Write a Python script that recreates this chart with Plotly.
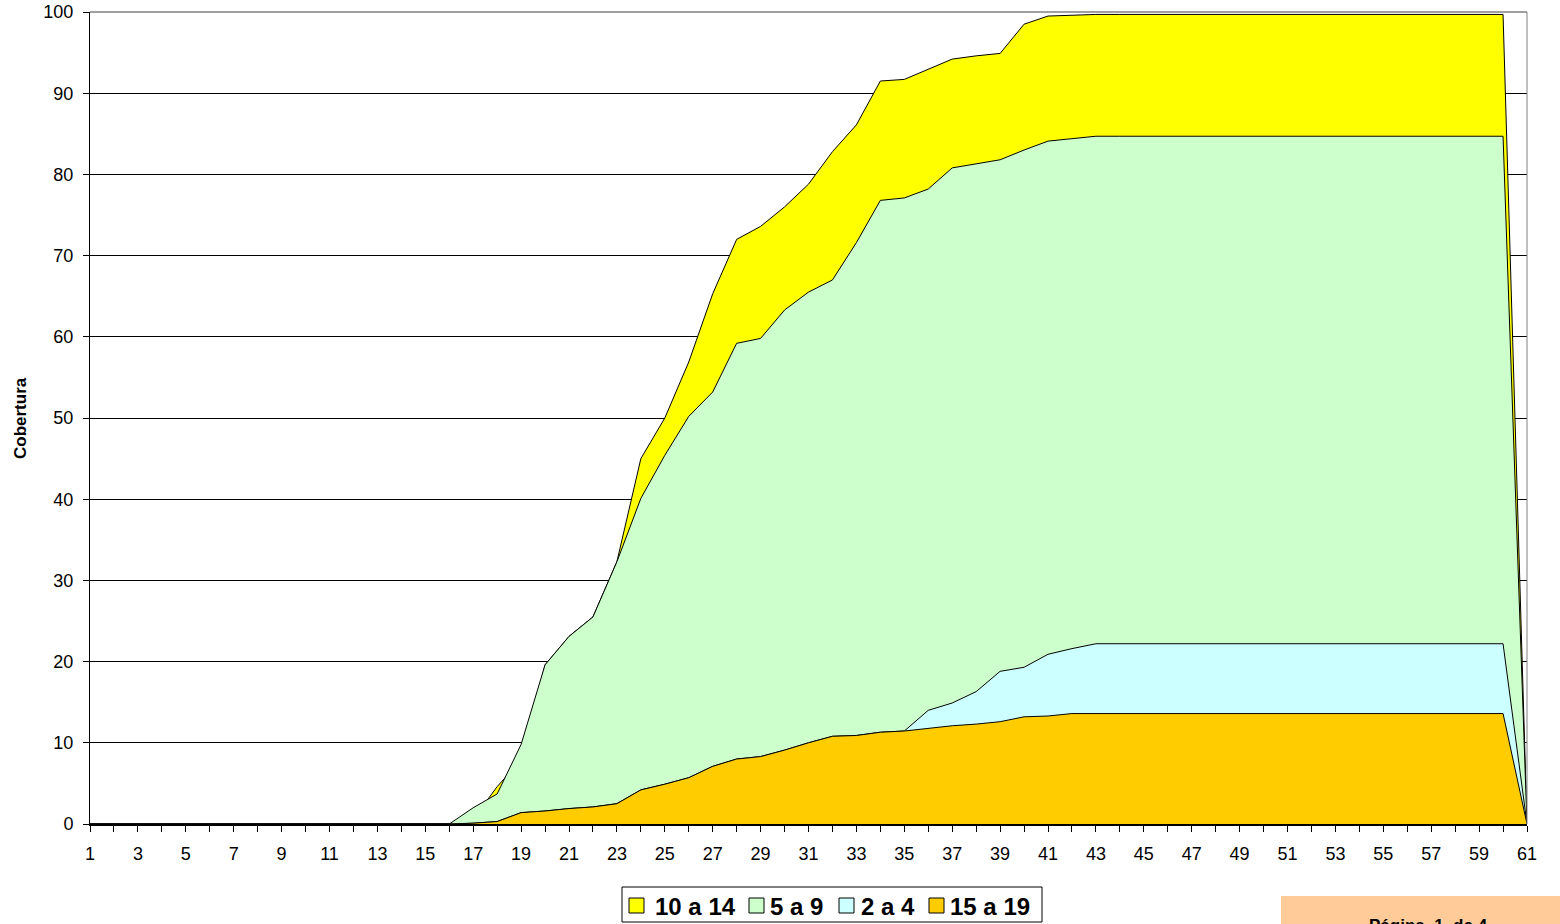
import plotly.graph_objects as go

# Categories (x axis)
semanas = list(range(1, 62))

# Series values (Cobertura, %)
s_10a14 = [0]*16 + [0.6, 4.6, 7.9, 19.6, 23.1, 25.5, 32.3, 45.0, 50.0, 56.9, 65.3, 72.0,
           73.6, 76.0, 78.8, 82.8, 86.1, 91.5, 91.7, 92.9, 94.2, 94.6, 94.9, 98.5,
           99.5, 99.6] + [99.7]*18 + [0]
s_5a9 = [0]*16 + [2.0, 3.7, 9.8, 19.6, 23.1, 25.5, 32.3, 40.1, 45.4, 50.2, 53.2, 59.2,
         59.8, 63.3, 65.5, 67.0, 71.6, 76.8, 77.1, 78.2, 80.8, 81.3, 81.8, 83.0,
         84.1, 84.4] + [84.7]*18 + [0]
s_15a19 = [0]*16 + [0.1, 0.3, 1.4, 1.6, 1.9, 2.1, 2.5, 4.2, 4.9, 5.7, 7.1, 8.0,
           8.3, 9.1, 10.0, 10.8, 10.9, 11.3, 11.45, 11.8, 12.1, 12.3, 12.6, 13.2,
           13.3, 13.6] + [13.6]*18 + [0]
s_2a4 = s_15a19[:35] + [14.0, 14.9, 16.3, 18.8, 19.3, 20.9, 21.6] + [22.2]*18 + [0]

series_names = ["10 a 14", "5 a 9", "2 a 4", "15 a 19"]
series_values = [s_10a14, s_5a9, s_2a4, s_15a19]
series_colors = ["#FFFF00", "#CCFFCC", "#CCFFFF", "#FFCC00"]

x_ticklabels = [str(k) if k % 2 == 1 else "" for k in semanas]
y_ticks = list(range(0, 101, 10))

FONT = "Arial, 'Liberation Sans', sans-serif"

# plot area spans page x 90..1527, y 12..824 (page body margin removed below)
W, H = 1560, 924
ML, MR, MT, MB = 90, 33, 12, 100
PW = W - ML - MR
PH = H - MT - MB


def px(page_x):
    return (page_x - ML) / PW


def py(page_y):
    return (H - MB - page_y) / PH


fig = go.Figure()
for name, vals, col in zip(series_names, series_values, series_colors):
    fig.add_trace(go.Scatter(
        x=semanas, y=vals, name=name, mode="lines",
        line=dict(color="black", width=1), fill="tozeroy", fillcolor=col,
        showlegend=False, hoverinfo="x+y+name"))

fig.update_layout(
    width=W, height=H,
    margin=dict(l=ML, r=MR, t=MT, b=MB, autoexpand=False),
    paper_bgcolor="white", plot_bgcolor="white",
    font=dict(family=FONT, size=18, color="black"),
    showlegend=False,
    xaxis=dict(range=[1, 61], tickvals=semanas, ticktext=x_ticklabels,
               ticks="outside", ticklen=6, tickcolor="black", tickwidth=1,
               ticklabelstandoff=6, ticklabeloverflow="allow",
               showline=True, linecolor="black", linewidth=2,
               showgrid=False, zeroline=False,
               tickfont=dict(family=FONT, size=18, color="black")),
    yaxis=dict(range=[0, 100], tickvals=y_ticks,
               ticks="outside", ticklen=6, tickcolor="black", tickwidth=1,
               ticklabelstandoff=6, ticklabeloverflow="allow",
               showline=True, linecolor="black", linewidth=1,
               showgrid=True, gridcolor="black", gridwidth=1, zeroline=False,
               tickfont=dict(family=FONT, size=18, color="black")),
)

# y-axis title
fig.add_annotation(xref="paper", yref="paper", x=px(20), y=0.5, xanchor="center", yanchor="middle",
                   text="<b>Cobertura</b>", textangle=-90, showarrow=False,
                   font=dict(family=FONT, size=17, color="black"))

# plot-area border (grey top & right)
fig.add_shape(type="line", xref="paper", yref="paper", x0=0, x1=1, y0=1, y1=1,
              line=dict(color="#808080", width=1.5), layer="above")
fig.add_shape(type="line", xref="paper", yref="paper", x0=1, x1=1, y0=0, y1=1,
              line=dict(color="#808080", width=1), layer="above")

# legend (box, swatches, labels)
fig.add_shape(type="rect", xref="paper", yref="paper", x0=px(622), x1=px(1042), y0=py(922), y1=py(887),
              fillcolor="white", line=dict(color="black", width=1))
swatch_left = [629, 749, 839, 929]
text_left = [653, 768, 859, 948]
for name, col, sl, tl in zip(series_names, series_colors, swatch_left, text_left):
    fig.add_shape(type="rect", xref="paper", yref="paper", x0=px(sl), x1=px(sl + 15),
                  y0=py(913), y1=py(898), fillcolor=col, line=dict(color="black", width=1))
    fig.add_annotation(xref="paper", yref="paper", x=px(tl), y=py(906), xanchor="left", yanchor="middle",
                       text="<b>" + name + "</b>", showarrow=False,
                       font=dict(family=FONT, size=24, color="black"))

# page box at bottom right (cut by the page edge, as in the reference)
fig.add_shape(type="rect", xref="paper", yref="paper", x0=px(1281), x1=px(1575), y0=py(950), y1=py(896),
              fillcolor="#FFCC99", line=dict(width=0), layer="below")
fig.add_annotation(xref="paper", yref="paper", x=px(1428), y=py(914), xanchor="center", yanchor="top",
                   text="<b>Página  1  de 4</b>", showarrow=False,
                   font=dict(family=FONT, size=17, color="black"))

fig.write_html("out.html", config={"displayModeBar": False},
               post_script="document.body.style.margin='0';")
